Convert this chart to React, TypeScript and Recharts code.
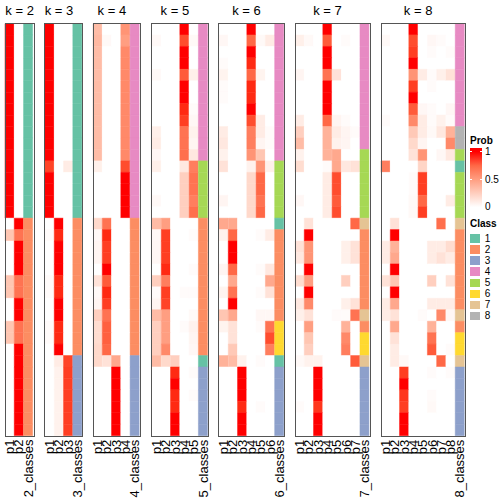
import React from "react";
import { BarChart, Bar, XAxis, YAxis, Cell } from "recharts";

// class colours (Set2)
const classColors: Record<number, string> = {
  1: "#66C2A5",
  2: "#FC8D62",
  3: "#8DA0CB",
  4: "#E78AC3",
  5: "#A6D854",
  6: "#FFD92F",
  7: "#E5C494",
  8: "#B3B3B3",
};

const probK2 = [
  [1, 0], [1, 0], [1, 0], [1, 0], [1, 0], [1, 0], [1, 0], [1, 0], [1, 0],
  [1, 0], [1, 0], [1, 0], [1, 0], [1, 0], [1, 0], [1, 0], [1, 0],
  [0, 1], [0.3, 0.7], [0, 1], [0, 1], [0, 1], [0.3, 0.7], [0.3, 0.7],
  [0, 1], [0, 1], [0.3, 0.7], [0.3, 0.7], [0, 1], [0, 1], [0, 1], [0, 1],
  [0, 1], [0, 1], [0, 1], [0, 1],
];
const classK2 = [1, 1, 1, 1, 1, 1, 1, 1, 1, 1, 1, 1, 1, 1, 1, 1, 1,
  2, 2, 2, 2, 2, 2, 2, 2, 2, 2, 2, 2, 2, 2, 2, 2, 2, 2, 2];

const probK3 = [
  [1, 0, 0], [1, 0, 0], [1, 0, 0], [1, 0, 0], [1, 0, 0], [1, 0, 0],
  [1, 0, 0], [1, 0, 0], [1, 0, 0], [1, 0, 0], [1, 0, 0], [1, 0, 0],
  [0.88, 0, 0.1], [1, 0, 0], [1, 0, 0], [1, 0, 0], [1, 0, 0],
  [0, 1, 0], [0.02, 0.95, 0], [0, 1, 0], [0, 1, 0], [0, 1, 0],
  [0.02, 0.95, 0], [0.02, 0.95, 0], [0, 1, 0], [0, 1, 0],
  [0.02, 0.95, 0], [0.02, 0.95, 0], [0, 1, 0],
  [0, 0.1, 0.88], [0, 0.07, 0.9], [0, 0.07, 0.9], [0, 0.07, 0.9],
  [0, 0.07, 0.9], [0, 0.07, 0.9], [0, 0.07, 0.9],
];
const classK3 = [1, 1, 1, 1, 1, 1, 1, 1, 1, 1, 1, 1, 1, 1, 1, 1, 1,
  2, 2, 2, 2, 2, 2, 2, 2, 2, 2, 2, 2, 3, 3, 3, 3, 3, 3, 3];

const probK4 = [
  [0.35, 0, 0, 0.55], [0.37, 0.03, 0, 0.5], [0.35, 0, 0, 0.6], [0.35, 0, 0, 0.6],
  [0.35, 0, 0, 0.6], [0.35, 0, 0, 0.6], [0.35, 0, 0, 0.6], [0.35, 0, 0, 0.6],
  [0.35, 0, 0, 0.6], [0.35, 0, 0, 0.6], [0.35, 0, 0, 0.6], [0.35, 0, 0, 0.6],
  [0.08, 0, 0, 0.85], [0, 0, 0, 1], [0, 0, 0, 1], [0, 0, 0, 1], [0, 0, 0, 1],
  [0.2, 0.7, 0, 0], [0.03, 0.95, 0, 0], [0.05, 0.9, 0, 0], [0.05, 0.9, 0, 0],
  [0, 1, 0, 0], [0.15, 0.8, 0, 0], [0.03, 0.95, 0, 0], [0.05, 0.9, 0, 0],
  [0.25, 0.7, 0, 0], [0.18, 0.78, 0, 0], [0.18, 0.78, 0, 0], [0.2, 0.75, 0, 0],
  [0.2, 0.15, 0.45, 0], [0, 0, 1, 0], [0, 0, 1, 0], [0, 0, 1, 0],
  [0, 0, 1, 0], [0, 0, 1, 0], [0, 0, 1, 0],
];
const classK4 = [4, 4, 4, 4, 4, 4, 4, 4, 4, 4, 4, 4, 4, 4, 4, 4, 4,
  2, 2, 2, 2, 2, 2, 2, 2, 2, 2, 2, 2, 3, 3, 3, 3, 3, 3, 3];

const probK5 = [
  [0, 0, 0, 1, 0], [0.03, 0, 0, 0.85, 0.03], [0, 0, 0, 1, 0], [0, 0, 0, 1, 0],
  [0.03, 0, 0, 0.8, 0.08], [0, 0, 0, 1, 0], [0, 0, 0, 1, 0], [0, 0, 0, 0.95, 0.02],
  [0, 0, 0, 0.9, 0.04], [0.08, 0, 0, 0.7, 0.07], [0.1, 0, 0, 0.7, 0.05],
  [0.04, 0, 0, 0.72, 0.12], [0.08, 0, 0, 0.12, 0.65], [0, 0, 0, 0.25, 0.7],
  [0, 0, 0, 0.25, 0.7], [0.03, 0, 0, 0.25, 0.65], [0, 0, 0, 0.25, 0.72],
  [0.35, 0.5, 0, 0, 0], [0.03, 0.9, 0, 0, 0.02], [0.04, 0.9, 0, 0, 0],
  [0.04, 0.9, 0, 0, 0], [0, 0.95, 0, 0, 0.02], [0.25, 0.65, 0, 0, 0],
  [0.02, 0.9, 0, 0.02, 0.02], [0.05, 0.88, 0, 0, 0], [0.35, 0.5, 0, 0, 0.03],
  [0.25, 0.5, 0, 0.02, 0.07], [0.25, 0.5, 0, 0, 0.05], [0.25, 0.6, 0, 0, 0.04],
  [0.35, 0.2, 0.25, 0, 0], [0, 0, 0.95, 0, 0.02], [0, 0, 1, 0, 0],
  [0, 0, 0.95, 0, 0.02], [0, 0, 0.95, 0, 0], [0, 0, 1, 0, 0], [0, 0, 1, 0, 0],
];
const classK5 = [4, 4, 4, 4, 4, 4, 4, 4, 4, 4, 4, 4, 5, 5, 5, 5, 5,
  2, 2, 2, 2, 2, 2, 2, 2, 2, 2, 2, 2, 1, 3, 3, 3, 3, 3, 3];

const probK6 = [
  [0, 0, 0, 1, 0, 0], [0.04, 0, 0, 0.75, 0.03, 0.1], [0, 0, 0, 1, 0, 0],
  [0.02, 0, 0, 0.95, 0, 0], [0.06, 0, 0, 0.75, 0.06, 0], [0.02, 0, 0, 0.95, 0, 0],
  [0.02, 0, 0, 0.95, 0, 0], [0, 0, 0, 1, 0, 0], [0, 0, 0, 0.85, 0.1, 0],
  [0.1, 0, 0, 0.65, 0.1, 0.02], [0.12, 0, 0, 0.65, 0.05, 0.02],
  [0.07, 0, 0, 0.55, 0.3, 0], [0.15, 0, 0, 0.07, 0.55, 0.08],
  [0, 0, 0, 0.2, 0.75, 0], [0, 0, 0, 0.2, 0.75, 0], [0.05, 0, 0, 0.2, 0.7, 0],
  [0, 0, 0, 0.2, 0.75, 0], [0.45, 0.45, 0, 0, 0, 0], [0.07, 0.75, 0, 0, 0.02, 0.1],
  [0, 1, 0, 0, 0, 0], [0, 1, 0, 0, 0, 0], [0.05, 0.75, 0, 0, 0.02, 0.12],
  [0, 0.45, 0, 0, 0, 0.45], [0.06, 0.7, 0, 0, 0.02, 0.15], [0, 1, 0, 0, 0, 0],
  [0.3, 0.45, 0, 0, 0.04, 0.04], [0.06, 0.15, 0, 0, 0.02, 0.7],
  [0, 0.15, 0, 0, 0, 0.85], [0, 0.28, 0, 0, 0, 0.65], [0.4, 0.35, 0.07, 0, 0.02, 0],
  [0, 0, 1, 0, 0, 0], [0, 0, 1, 0, 0, 0], [0, 0, 1, 0, 0, 0],
  [0, 0, 0.95, 0, 0.02, 0], [0, 0, 1, 0, 0, 0], [0, 0, 1, 0, 0, 0],
];
const classK6 = [4, 4, 4, 4, 4, 4, 4, 4, 4, 4, 4, 4, 5, 5, 5, 5, 5,
  1, 2, 2, 2, 2, 2, 2, 2, 2, 6, 6, 6, 1, 3, 3, 3, 3, 3, 3];

const probK7 = [
  [0, 0, 0, 1, 0, 0, 0], [0.08, 0.03, 0, 0.8, 0, 0.02, 0], [0, 0, 0, 1, 0, 0, 0],
  [0, 0, 0, 1, 0, 0, 0], [0.05, 0, 0, 0.7, 0.15, 0, 0], [0, 0, 0, 1, 0, 0, 0],
  [0, 0, 0, 1, 0, 0, 0], [0, 0, 0, 1, 0, 0, 0], [0.1, 0, 0, 0.75, 0.05, 0.02, 0],
  [0.25, 0, 0, 0.4, 0.1, 0.05, 0.02], [0.35, 0, 0, 0.4, 0.07, 0.05, 0],
  [0.07, 0, 0, 0.4, 0.45, 0, 0], [0.18, 0, 0, 0.02, 0.45, 0.12, 0.15],
  [0, 0, 0, 0.1, 0.85, 0, 0], [0, 0, 0, 0.1, 0.85, 0, 0], [0.04, 0, 0, 0.1, 0.8, 0, 0],
  [0, 0, 0, 0.1, 0.85, 0, 0], [0, 0.15, 0, 0, 0, 0, 0.75], [0, 1, 0, 0, 0, 0, 0],
  [0.15, 0.55, 0, 0, 0, 0.08, 0.15], [0.12, 0.55, 0, 0, 0, 0.08, 0.15],
  [0, 1, 0, 0, 0, 0, 0], [0.18, 0.5, 0, 0, 0, 0.25, 0], [0, 1, 0, 0, 0, 0, 0],
  [0.12, 0.6, 0, 0, 0, 0.08, 0.15], [0.08, 0.15, 0, 0, 0.02, 0.02, 0.7],
  [0, 0.5, 0, 0, 0, 0.4, 0], [0, 0.3, 0, 0, 0, 0.6, 0], [0, 0.25, 0, 0, 0, 0.65, 0],
  [0.03, 0.07, 0.07, 0, 0, 0, 0.8], [0, 0, 1, 0, 0, 0, 0], [0, 0, 1, 0, 0, 0, 0],
  [0, 0, 1, 0, 0, 0, 0], [0.02, 0, 0.92, 0, 0, 0, 0], [0, 0, 1, 0, 0, 0, 0],
  [0, 0, 1, 0, 0, 0, 0],
];
const classK7 = [4, 4, 4, 4, 4, 4, 4, 4, 4, 4, 4, 5, 5, 5, 5, 5, 5,
  7, 2, 2, 2, 2, 2, 2, 2, 7, 2, 6, 6, 7, 3, 3, 3, 3, 3, 3];

const probK8 = [
  [0, 0, 0, 1, 0, 0, 0, 0], [0.03, 0, 0, 0.85, 0, 0.04, 0.02, 0],
  [0, 0, 0, 0.9, 0, 0.02, 0, 0.02], [0, 0, 0, 1, 0, 0, 0, 0],
  [0, 0, 0, 0.55, 0.1, 0.02, 0.08, 0.15], [0, 0, 0, 0.9, 0, 0.02, 0, 0],
  [0, 0, 0, 1, 0, 0, 0, 0], [0, 0, 0, 0.8, 0.04, 0.02, 0, 0.04],
  [0.02, 0, 0, 0.6, 0.1, 0.02, 0.07, 0.02], [0, 0, 0, 0.28, 0.1, 0.03, 0.12, 0.4],
  [0, 0, 0, 0.2, 0.05, 0, 0, 0.6], [0, 0, 0, 0.15, 0.55, 0, 0.04, 0.12],
  [0.65, 0, 0, 0, 0.22, 0, 0, 0], [0, 0, 0, 0.02, 0.9, 0, 0, 0],
  [0, 0, 0, 0.02, 0.9, 0, 0, 0], [0, 0, 0, 0.03, 0.75, 0, 0, 0.1],
  [0, 0, 0, 0.03, 0.9, 0, 0, 0], [0, 0.15, 0, 0, 0, 0, 0.72, 0],
  [0, 1, 0, 0, 0, 0, 0, 0], [0.1, 0.4, 0, 0, 0, 0.1, 0.1, 0.18],
  [0.1, 0.45, 0, 0, 0, 0.1, 0.15, 0.1], [0, 1, 0, 0, 0, 0, 0, 0],
  [0.15, 0.3, 0, 0, 0, 0.25, 0, 0.15], [0, 1, 0, 0, 0, 0, 0, 0],
  [0.1, 0.45, 0, 0, 0, 0.1, 0.1, 0.1], [0.1, 0.15, 0, 0, 0.02, 0, 0.6, 0.04],
  [0, 0.45, 0, 0, 0, 0.4, 0, 0], [0, 0.15, 0, 0, 0, 0.7, 0, 0],
  [0, 0.1, 0, 0, 0, 0.8, 0, 0.02], [0, 0.1, 0.03, 0, 0, 0, 0.75, 0],
  [0, 0, 0.9, 0, 0, 0.02, 0, 0.02], [0, 0, 1, 0, 0, 0, 0, 0],
  [0, 0, 0.92, 0, 0, 0.02, 0, 0], [0, 0, 0.9, 0, 0, 0.03, 0, 0],
  [0, 0, 1, 0, 0, 0, 0, 0], [0, 0, 1, 0, 0, 0, 0, 0],
];
const classK8 = [4, 4, 4, 4, 4, 4, 4, 4, 4, 8, 8, 5, 1, 5, 5, 5, 5,
  7, 2, 2, 2, 2, 2, 2, 2, 7, 2, 6, 6, 7, 3, 3, 3, 3, 3, 3];

const panels = [
  { k: 2, probs: probK2, classes: classK2, left: 5.3 },
  { k: 3, probs: probK3, classes: classK3, left: 44.7 },
  { k: 4, probs: probK4, classes: classK4, left: 93.3 },
  { k: 5, probs: probK5, classes: classK5, left: 151.7 },
  { k: 6, probs: probK6, classes: classK6, left: 218.7 },
  { k: 7, probs: probK7, classes: classK7, left: 295 },
  { k: 8, probs: probK8, classes: classK8, left: 381 },
];

const legendTicks = [1, 0.5, 0];
const legendClasses = [1, 2, 3, 4, 5, 6, 7, 8];

const FONT = "'Liberation Sans', Arial, Helvetica, sans-serif";
const TOP = 23.5;
const BOTTOM = 435.7;
const COL_W = 9.28;
const H = 504;

// white -> red, interpolated in LAB like colorRamp2
function probColor(p: number): string {
  const L = 100 - 46.76 * p;
  const A = 80.09 * p;
  const B = 67.2 * p;
  const fy = (L + 16) / 116;
  const fx = fy + A / 500;
  const fz = fy - B / 200;
  const inv = (t: number) => (t ** 3 > 0.008856 ? t ** 3 : (t - 16 / 116) / 7.787);
  const X = 0.95047 * inv(fx);
  const Y = inv(fy);
  const Z = 1.08883 * inv(fz);
  const lin = [
    3.2406 * X - 1.5372 * Y - 0.4986 * Z,
    -0.9689 * X + 1.8758 * Y + 0.0415 * Z,
    0.0557 * X - 0.204 * Y + 1.057 * Z,
  ];
  const rgb = lin.map((c) => {
    const v = c <= 0.0031308 ? 12.92 * c : 1.055 * Math.pow(c, 1 / 2.4) - 0.055;
    return Math.round(Math.min(1, Math.max(0, v)) * 255);
  });
  return `rgb(${rgb.join(",")})`;
}

const ColTick = (props: any) => {
  const { x, y, payload } = props;
  const ty = y + 2;
  return (
    <text
      x={x}
      y={ty}
      transform={`rotate(-90 ${x} ${ty})`}
      textAnchor="end"
      dominantBaseline="central"
      fontSize={13}
      fontFamily={FONT}
      fill="#000"
    >
      {payload.value}
    </text>
  );
};

function Panel({ k, probs, classes, left }: { k: number; probs: number[][]; classes: number[]; left: number }) {
  const cols = probs[0].map((_, j) => `p${j + 1}`).concat(`${k}_classes`);
  const data = cols.map((c) => {
    const o: Record<string, any> = { col: c };
    probs.forEach((_, i) => (o[`r${i}`] = 1));
    return o;
  });
  const width = cols.length * COL_W;

  return (
    <div style={{ position: "absolute", left, top: 0, width, height: H }}>
      <div
        style={{
          position: "absolute",
          top: 3,
          left: 0,
          width: k * COL_W,
          textAlign: "center",
          fontSize: 13,
          lineHeight: "15px",
          whiteSpace: "nowrap",
          fontFamily: FONT,
        }}
      >
        k = {k}
      </div>
      <BarChart
        width={width}
        height={H}
        data={data}
        margin={{ top: TOP, right: 0, bottom: 0, left: 0 }}
        barCategoryGap={0}
        barGap={0}
        style={{ overflow: "visible" }}
      >
        <XAxis
          dataKey="col"
          height={H - BOTTOM}
          interval={0}
          tickLine={false}
          axisLine={false}
          tickSize={0}
          tick={<ColTick />}
        />
        <YAxis hide width={0} type="number" domain={[0, probs.length]} reversed />
        {probs.map((row, i) => (
          <Bar key={i} dataKey={`r${i}`} stackId="s" isAnimationActive={false}>
            {cols.map((c, j) => {
              const fill = j < k ? probColor(row[j]) : classColors[classes[i]];
              return <Cell key={c} fill={fill} stroke={fill} strokeWidth={0.5} />;
            })}
          </Bar>
        ))}
      </BarChart>
      <div
        style={{
          position: "absolute",
          left: -0.5,
          top: TOP - 0.5,
          width,
          height: BOTTOM - TOP,
          border: "1px solid #555",
          pointerEvents: "none",
        }}
      />
    </div>
  );
}

function Legend() {
  const gTop = 148;
  const gH = 62;
  const yOf = (v: number) => 151.7 + (1 - v) * 55.6;
  const stops = [1, 0.75, 0.5, 0.25, 0]
    .map((v) => `${probColor(v)} ${(((yOf(v) - gTop) / gH) * 100).toFixed(1)}%`)
    .join(", ");
  const label: React.CSSProperties = {
    position: "absolute",
    fontSize: 10,
    lineHeight: "12px",
    fontFamily: FONT,
    whiteSpace: "nowrap",
  };
  return (
    <>
      <div style={{ ...label, left: 470, top: 134.5, fontWeight: "bold" }}>Prob</div>
      <div
        style={{
          position: "absolute",
          left: 470,
          top: gTop,
          width: 11.5,
          height: gH,
          background: `linear-gradient(to bottom, ${stops})`,
        }}
      />
      {legendTicks.map((v) => (
        <React.Fragment key={v}>
          {v > 0 && (
            <>
              <div style={{ position: "absolute", left: 470, top: yOf(v) - 0.5, width: 2, height: 1, background: "#fff" }} />
              <div style={{ position: "absolute", left: 479.5, top: yOf(v) - 0.5, width: 2, height: 1, background: "#fff" }} />
            </>
          )}
          <div style={{ ...label, left: 485, top: yOf(v) - 6 }}>{v}</div>
        </React.Fragment>
      ))}
      <div style={{ ...label, left: 470, top: 217.5, fontWeight: "bold" }}>Class</div>
      {legendClasses.map((c, i) => {
        const t = 234.3 + i * 11.05;
        return (
          <React.Fragment key={c}>
            <div style={{ position: "absolute", left: 470, top: t, width: 10, height: 8.6, background: classColors[c] }} />
            <div style={{ ...label, left: 484.7, top: t + 4.3 - 6 }}>{c}</div>
          </React.Fragment>
        );
      })}
    </>
  );
}

export default function App() {
  return (
    <div
      style={{
        position: "absolute",
        left: 0,
        top: 0,
        width: 504,
        height: 504,
        background: "#fff",
        overflow: "hidden",
        fontFamily: FONT,
      }}
    >
      <style>{`.recharts-surface { overflow: visible; } .recharts-wrapper { overflow: visible; }`}</style>
      {panels.map((p) => (
        <Panel key={p.k} {...p} />
      ))}
      <Legend />
    </div>
  );
}
